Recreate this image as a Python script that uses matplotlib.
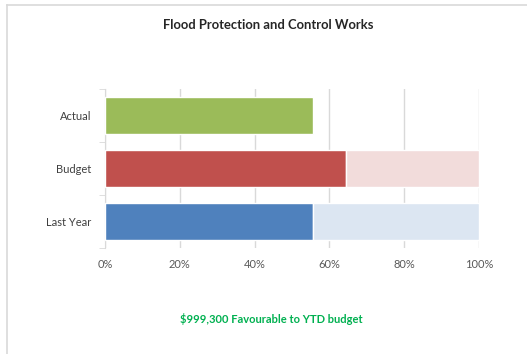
import matplotlib.pyplot as plt
from matplotlib.lines import Line2D

categories = ["Last Year", "Budget", "Actual"]
spent = [0.555, 0.645, 0.557]
remaining_shown = [True, True, False]
bar_colors = ["#4F81BD", "#C0504D", "#9BBB59"]
rest_colors = ["#DCE6F2", "#F2DCDB", "#FFFFFF"]
xticks = [0, 0.2, 0.4, 0.6, 0.8, 1.0]
xtick_labels = ["0%", "20%", "40%", "60%", "80%", "100%"]
title = "Flood Protection and Control Works"
note = "$999,300 Favourable to YTD budget"

plt.rcParams['font.family'] = ['Lato', 'DejaVu Sans']

W, H = 527, 354
fig = plt.figure(figsize=(W / 100, H / 100), dpi=100)
ax = fig.add_axes([105 / W, 1 - 248 / H, 374 / W, 159 / H])

# chart frame (top and left edges only)
fx, fy = 6.5 / W, 1 - 4.5 / H
fig.add_artist(Line2D([fx, 1.0], [fy, fy], transform=fig.transFigure,
                      color="#D9D9D9", linewidth=1.2))
fig.add_artist(Line2D([fx, fx], [0.0, fy], transform=fig.transFigure,
                      color="#D9D9D9", linewidth=1.2))

ypos = range(len(categories))
ax.barh(ypos, spent, height=0.68, color=bar_colors,
        edgecolor="white", linewidth=1, zorder=3)
for y, s, show, c in zip(ypos, spent, remaining_shown, rest_colors):
    if show:
        ax.barh(y, 1 - s, left=s, height=0.68, color=c,
                edgecolor="white", linewidth=1, zorder=3)

ax.set_xlim(0, 1)
ax.set_ylim(-0.5, 2.5)
ax.set_xticks(xticks)
ax.set_xticklabels(xtick_labels)
ax.set_yticks(list(ypos))
ax.set_yticklabels(categories)
ax.set_yticks([-0.5, 0.5, 1.5, 2.5], minor=True)
ax.tick_params(axis='y', which='major', length=0, pad=10, labelsize=8,
               labelcolor="#404040")
ax.tick_params(axis='y', which='minor', length=4, color="#D9D9D9")
ax.tick_params(axis='x', length=0, pad=8, labelsize=8, labelcolor="#595959")
ax.grid(axis='x', color="#D9D9D9", linewidth=1, zorder=0)
for side in ["top", "right", "bottom"]:
    ax.spines[side].set_visible(False)
ax.spines["left"].set_color("#D9D9D9")

fig.text(268 / W, 1 - 25 / H, title, ha="center", va="center",
         fontsize=9.4, fontweight="bold", color="#262626")
fig.text(271 / W, 1 - 319 / H, note, ha="center", va="center",
         fontsize=8, fontweight="bold", color="#00B050")

fig.savefig("out.png", dpi=100)
